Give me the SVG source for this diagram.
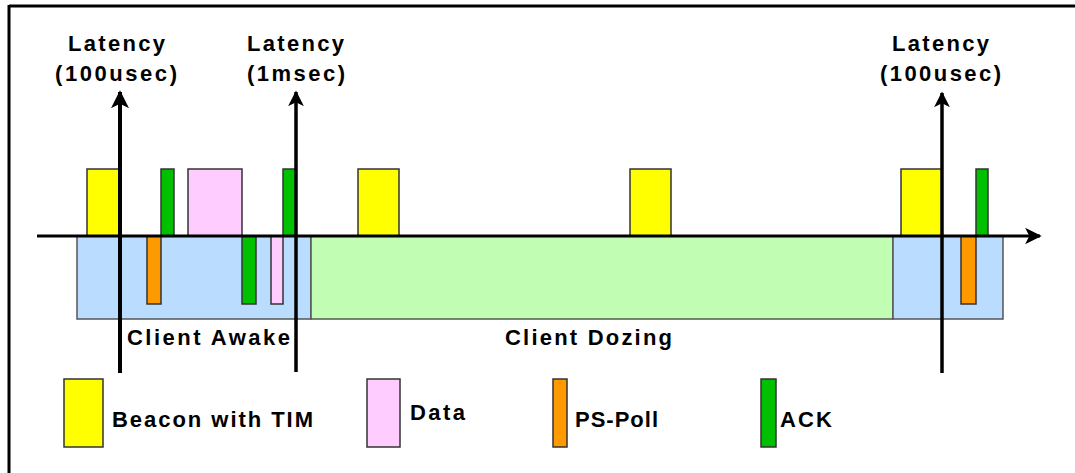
<svg xmlns="http://www.w3.org/2000/svg" width="1075" height="473" viewBox="0 0 1075 473">
  <defs>
    <marker id="arrowUp" viewBox="0 0 10 10" refX="9" refY="5" markerWidth="4.5" markerHeight="4.5" orient="auto" markerUnits="strokeWidth">
      <path d="M0,0 L10,5 L0,10 L2.5,5 Z" fill="#000"/>
    </marker>
    <marker id="arrowAxis" viewBox="0 0 10 10" refX="9" refY="5" markerWidth="5.5" markerHeight="5.5" orient="auto" markerUnits="strokeWidth">
      <path d="M0,0 L10,5 L0,10 L2.5,5 Z" fill="#000"/>
    </marker>
  </defs>
  <style>
    .lbl { font-family: "Liberation Sans", Arial, sans-serif; font-weight: bold; font-size: 22px; fill: #000; }
    .box { stroke: #333; stroke-width: 1.5; }
    .region { stroke: #555; stroke-width: 1.5; }
    .beacon { fill: #ffff00; }
    .data { fill: #ffccff; }
    .poll { fill: #ff9900; }
    .ack { fill: #00c000; }
    .awake { fill: #b9dcff; }
    .doze { fill: #c2fdb4; }
    .conn { stroke: #000; fill: none; }
  </style>

  <rect x="0" y="0" width="1075" height="473" fill="#fff"/>
  <g id="frame">
    <line x1="9" y1="6" x2="1075" y2="6" stroke="#000" stroke-width="3"/>
    <line x1="9" y1="5" x2="9" y2="473" stroke="#000" stroke-width="3"/>
  </g>

  <g id="regions">
    <rect id="awake1" class="region awake" x="77" y="236" width="234" height="83"/>
    <rect id="dozing" class="region doze" x="311" y="236" width="582" height="83"/>
    <rect id="awake2" class="region awake" x="893" y="236" width="110" height="83"/>
  </g>

  <g id="frames">
    <rect id="beacon1" class="box beacon" x="87" y="169" width="33" height="67"/>
    <rect id="ack1" class="box ack" x="161" y="169" width="13" height="67"/>
    <rect id="data1" class="box data" x="188" y="169" width="54" height="67"/>
    <rect id="ack2" class="box ack" x="283" y="169" width="13" height="67"/>
    <rect id="beacon2" class="box beacon" x="358" y="169" width="41" height="67"/>
    <rect id="beacon3" class="box beacon" x="630" y="169" width="41" height="67"/>
    <rect id="beacon4" class="box beacon" x="901" y="169" width="41" height="67"/>
    <rect id="ack3" class="box ack" x="976" y="169" width="12" height="67"/>

    <rect id="poll1" class="box poll" x="147" y="236" width="14" height="68"/>
    <rect id="ack4" class="box ack" x="242" y="236" width="14" height="68"/>
    <rect id="data2" class="box data" x="271" y="236" width="12" height="68"/>
    <rect id="poll2" class="box poll" x="961" y="236" width="15" height="68"/>
  </g>

  <g id="connectors">
    <line id="timeAxis" class="conn" x1="37" y1="236" x2="1040" y2="236" stroke-width="3" marker-end="url(#arrowAxis)"/>
    <line id="lat1" class="conn" x1="120" y1="373" x2="120" y2="92" stroke-width="4" marker-end="url(#arrowUp)"/>
    <line id="lat2" class="conn" x1="296" y1="372" x2="296" y2="92" stroke-width="3.5" marker-end="url(#arrowUp)"/>
    <line id="lat3" class="conn" x1="942" y1="373" x2="942" y2="93" stroke-width="3.5" marker-end="url(#arrowUp)"/>
  </g>

  <g id="latencyLabels">
    <g id="label1">
      <text class="lbl" x="68" y="51" textLength="97" lengthAdjust="spacing">Latency</text>
      <text class="lbl" x="55" y="81" textLength="122" lengthAdjust="spacing">(100usec)</text>
    </g>
    <g id="label2">
      <text class="lbl" x="247" y="51" textLength="97" lengthAdjust="spacing">Latency</text>
      <text class="lbl" x="247" y="81" textLength="98" lengthAdjust="spacing">(1msec)</text>
    </g>
    <g id="label3">
      <text class="lbl" x="892" y="51" textLength="97" lengthAdjust="spacing">Latency</text>
      <text class="lbl" x="880" y="81" textLength="121" lengthAdjust="spacing">(100usec)</text>
    </g>
  </g>

  <g id="stateLabels">
    <text id="clientAwake" class="lbl" x="127" y="345" textLength="163" lengthAdjust="spacing">Client Awake</text>
    <text id="clientDozing" class="lbl" x="505" y="345" textLength="167" lengthAdjust="spacing">Client Dozing</text>
  </g>

  <g id="legend">
    <g id="legendBeacon">
      <rect class="box beacon" x="64" y="379" width="39" height="68"/>
      <text class="lbl" x="112" y="427" textLength="201" lengthAdjust="spacing">Beacon with TIM</text>
    </g>
    <g id="legendData">
      <rect class="box data" x="367" y="379" width="33" height="68"/>
      <text class="lbl" x="410" y="420" textLength="55" lengthAdjust="spacing">Data</text>
    </g>
    <g id="legendPoll">
      <rect class="box poll" x="553" y="379" width="14" height="68"/>
      <text class="lbl" x="575" y="427" textLength="83" lengthAdjust="spacing">PS-Poll</text>
    </g>
    <g id="legendAck">
      <rect class="box ack" x="761" y="379" width="15" height="68"/>
      <text class="lbl" x="780" y="427" textLength="52" lengthAdjust="spacing">ACK</text>
    </g>
  </g>
</svg>
